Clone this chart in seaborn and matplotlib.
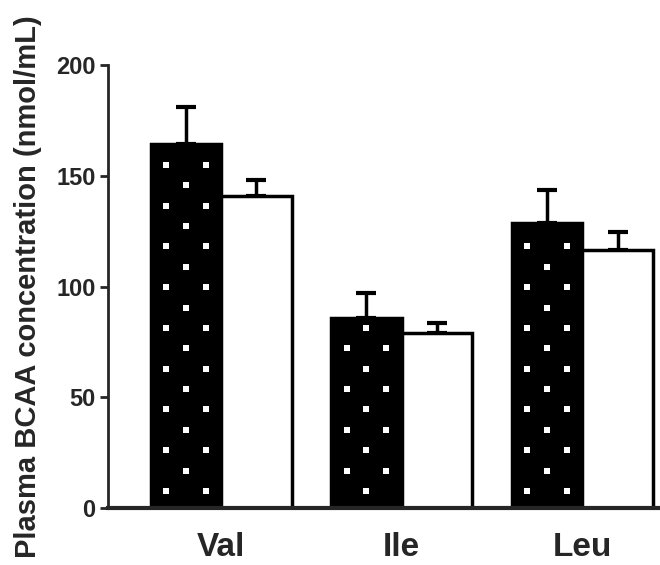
import numpy as np
import pandas as pd
import matplotlib
matplotlib.use("Agg")
import matplotlib.pyplot as plt
import seaborn as sns

categories = ["Val", "Ile", "Leu"]
groups = ["Group A", "Group B"]
values_a = [164.5, 86.0, 128.5]
errors_a = [16.5, 11.0, 15.0]
values_b = [141.0, 79.0, 116.5]
errors_b = [7.0, 4.5, 8.0]
yticks = [0, 50, 100, 150, 200]

sns.set_theme(style="ticks")
plt.rcParams["font.family"] = ["Liberation Sans", "DejaVu Sans"]
plt.rcParams["font.weight"] = "bold"

df = pd.DataFrame({
    "aa": categories * 2,
    "group": [groups[0]] * 3 + [groups[1]] * 3,
    "value": values_a + values_b,
    "err": errors_a + errors_b,
})

fig = plt.figure(figsize=(6.6, 5.65), dpi=100)
ax = fig.add_axes([108 / 660, 1 - 508 / 565, 1 - 108 / 660, (508 - 65) / 565])

sns.barplot(data=df, x="aa", y="value", hue="group", order=categories,
            hue_order=groups, palette={groups[0]: "black", groups[1]: "white"},
            edgecolor="black", linewidth=2.5, width=0.78, errorbar=None,
            legend=False, ax=ax, zorder=2)

# error bars (upper only) from the bar geometry
bars = [p for p in ax.patches]
errs = errors_a + errors_b
for p, e in zip(bars, errs):
    xc = p.get_x() + p.get_width() / 2
    h = p.get_height()
    ax.errorbar([xc], [h], yerr=[[0], [e]], fmt="none", ecolor="black",
                elinewidth=2.5, capsize=7, capthick=3, zorder=1)

# white square dot pattern inside the black bars
for i, p in enumerate(bars[:3]):
    x0, w, h = p.get_x(), p.get_width(), p.get_height()
    start_center = (i == 1)
    ys = np.arange(7.7, h - 3, 9.2)
    xs_list, ys_list = [], []
    for j, yy in enumerate(ys):
        center_row = (j % 2 == 1) != start_center
        if center_row:
            xs = [x0 + 0.5 * w]
        else:
            xs = [x0 + 0.22 * w, x0 + 0.78 * w]
        for xx in xs:
            xs_list.append(xx)
            ys_list.append(yy)
    sc = ax.scatter(xs_list, ys_list, marker="s", s=16, color="white",
                    linewidths=0, zorder=3)
    sc.set_clip_path(p)

ax.set_ylim(0, 200)
ax.set_xlim(-0.626, 2.43)
ax.set_yticks(yticks)
ax.set_yticklabels([str(t) for t in yticks], fontsize=17, fontweight="bold")
ax.set_xticks(range(len(categories)))
ax.set_xticklabels(categories, fontsize=24, fontweight="bold")
ax.tick_params(axis="x", length=0, pad=17)
ax.tick_params(axis="y", length=6, width=2, direction="out", pad=3)
ax.set_xlabel("")
ax.set_ylabel("Plasma BCAA concentration (nmol/mL)", fontsize=21,
              fontweight="bold", labelpad=10)
ax.spines["top"].set_visible(False)
ax.spines["right"].set_visible(False)
ax.spines["left"].set_linewidth(2)
ax.spines["bottom"].set_linewidth(3)
ax.spines["left"].set_zorder(4)
ax.spines["bottom"].set_zorder(4)

fig.savefig("out.png", dpi=100)
